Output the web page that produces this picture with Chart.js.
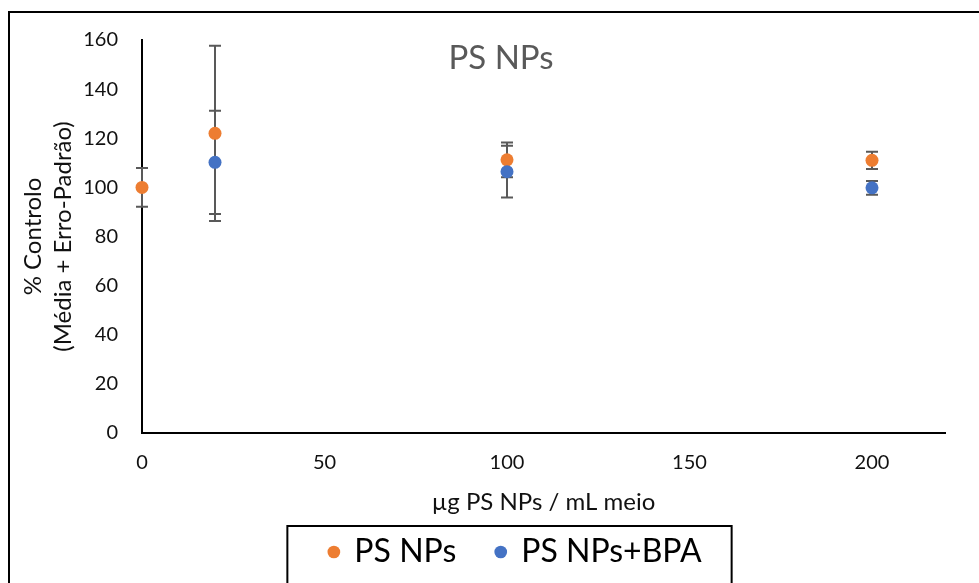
<!DOCTYPE html>
<html>
<head>
<meta charset="utf-8">
<script src="https://cdn.jsdelivr.net/npm/chart.js@4.4.1/dist/chart.umd.min.js"></script>
<style>
  html, body { margin: 0; padding: 0; background: #fff; }
  #wrap { width: 979px; height: 583px; }
</style>
</head>
<body>
<div id="wrap"><canvas id="chart" width="979" height="583"></canvas></div>
<script>
// dose (µg PS NPs / mL meio)
var doses = [0, 20, 100, 200];
// % controlo, mean and standard error
var psNPs = [100, 122, 111.2, 111];
var psNPsErr = [7.9, 35.7, 7.1, 3.5];
var psNPsBpa = [null, 110.2, 106.4, 99.8];
var psNPsBpaErr = [null, 21, 10.5, 2.8];
var xTicks = [0, 50, 100, 150, 200];
var yTicks = [0, 20, 40, 60, 80, 100, 120, 140, 160];

var ORANGE = '#ED7D31', BLUE = '#4472C4', GREY = '#595959';
var FONT = "Lato, 'Open Sans', sans-serif";
Chart.defaults.font.family = FONT;

function toPoints(xs, ys){
  var out = [];
  for (var i = 0; i < xs.length; i++) out.push({x: xs[i], y: ys[i]});
  return out;
}

// vertical error bars with caps, drawn under the markers
var errorBars = {
  id: 'errorBars',
  beforeDatasetsDraw: function(chart){
    var ctx = chart.ctx, xs = chart.scales.x, ys = chart.scales.y;
    ctx.save();
    ctx.strokeStyle = GREY;
    ctx.lineWidth = 2;
    chart.data.datasets.forEach(function(ds){
      ds.data.forEach(function(p, i){
        var e = ds.errors[i];
        if (p.y == null || !e) return;
        var px = xs.getPixelForValue(p.x);
        var top = ys.getPixelForValue(p.y + e), bot = ys.getPixelForValue(p.y - e);
        ctx.beginPath();
        ctx.moveTo(px, top); ctx.lineTo(px, bot);
        ctx.moveTo(px - 6, top); ctx.lineTo(px + 6, top);
        ctx.moveTo(px - 6, bot); ctx.lineTo(px + 6, bot);
        ctx.stroke();
      });
    });
    ctx.restore();
  }
};

// legend sits centred under the plot, lower than chart.js puts it
var placeLegend = {
  id: 'placeLegend',
  afterLayout: function(chart){
    var lg = chart.legend;
    lg.left += 43; lg.right += 43;
    lg.top = 496; lg.bottom = 583;
  }
};

// outer frame, chart title and legend box
var decorations = {
  id: 'decorations',
  afterDraw: function(chart){
    var ctx = chart.ctx;
    ctx.save();
    ctx.strokeStyle = '#000';
    ctx.lineWidth = 2;
    ctx.beginPath();
    ctx.moveTo(9, 600); ctx.lineTo(9, 12); ctx.lineTo(990, 12);
    ctx.stroke();

    var hb = chart.legend.legendHitBoxes;
    if (hb && hb.length){
      var first = hb[0], last = hb[hb.length - 1];
      var l = first.left - 42, r = last.left + last.width + 30;
      var t = first.top + first.height / 2 - 26;
      ctx.strokeRect(l, t, r - l, 620 - t);
    }

    ctx.fillStyle = GREY;
    ctx.font = '33px ' + FONT;
    ctx.textAlign = 'center';
    ctx.textBaseline = 'alphabetic';
    ctx.fillText('PS NPs', 501, 69);
    ctx.restore();
  }
};

new Chart(document.getElementById('chart'), {
  type: 'scatter',
  data: {
    datasets: [{
      label: 'PS NPs',
      data: toPoints(doses, psNPs),
      errors: psNPsErr,
      backgroundColor: ORANGE,
      borderColor: ORANGE,
      borderWidth: 0,
      pointRadius: 6.5,
      pointHoverRadius: 6.5,
      clip: false,
      order: 1
    }, {
      label: 'PS NPs+BPA',
      data: toPoints(doses, psNPsBpa),
      errors: psNPsBpaErr,
      backgroundColor: BLUE,
      borderColor: BLUE,
      borderWidth: 0,
      pointRadius: 6.5,
      pointHoverRadius: 6.5,
      clip: false,
      order: 0
    }]
  },
  options: {
    responsive: false,
    animation: false,
    layout: { padding: { left: 0, right: 34, top: 40, bottom: 0 } },
    plugins: {
      tooltip: { enabled: false },
      legend: {
        position: 'bottom',
        maxHeight: 50,
        labels: {
          usePointStyle: true,
          pointStyle: 'circle',
          boxWidth: 9,
          boxHeight: 9,
          padding: 40,
          color: '#000',
          font: { size: 32 },
          sort: function(a, b){ return a.datasetIndex - b.datasetIndex; }
        }
      }
    },
    scales: {
      x: {
        type: 'linear',
        min: 0,
        max: 220,
        afterBuildTicks: function(scale){ scale.ticks = xTicks.map(function(v){ return {value: v}; }); },
        afterFit: function(scale){ scale.height = 100; },
        grid: { display: false, drawTicks: false },
        border: { display: true, color: '#000', width: 2 },
        ticks: { color: '#111', font: { size: 20 }, padding: 18 },
        title: {
          display: true,
          text: 'µg PS NPs / mL meio',
          color: '#111',
          font: { size: 24, lineHeight: 1.2 },
          padding: { top: 0, bottom: 16 }
        }
      },
      y: {
        min: 0,
        max: 160,
        afterBuildTicks: function(scale){ scale.ticks = yTicks.map(function(v){ return {value: v}; }); },
        afterFit: function(scale){ scale.width = 142; },
        grid: { display: false, drawTicks: false },
        border: { display: true, color: '#000', width: 2 },
        ticks: { color: '#111', font: { size: 20 }, padding: 24 },
        title: {
          display: true,
          text: ['% Controlo', '(Média + Erro-Padrão)'],
          color: '#111',
          font: { size: 24, lineHeight: 1.25 },
          padding: { top: 18, bottom: 0 }
        }
      }
    }
  },
  plugins: [errorBars, placeLegend, decorations]
});
</script>
</body>
</html>
